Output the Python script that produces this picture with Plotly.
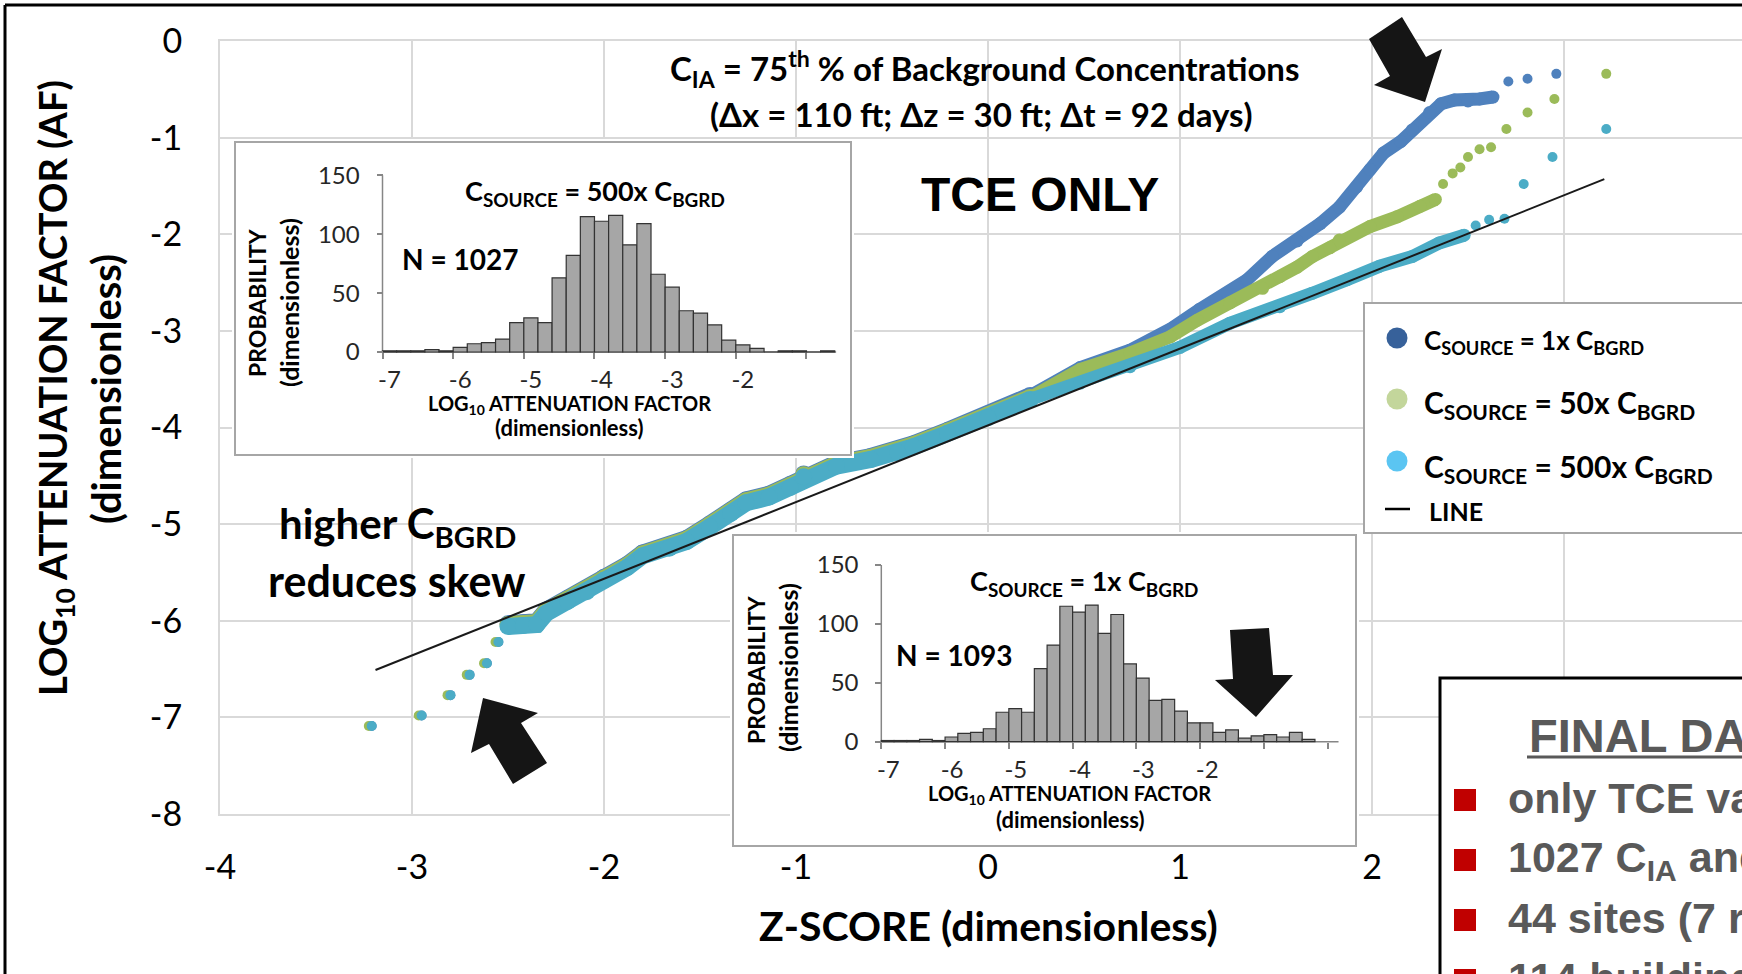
import plotly.graph_objects as go

# ---------------- figure geometry (pixels) ----------------
W, H = 1742, 974
# main plotting rectangle in pixels
ML, MR, MT, MB = 220, 1742, 41, 814


def px(x):
    return x / W


def py(y):
    return (H - y) / H


# ---------------- main chart data ----------------
Z_TICKS = [-4, -3, -2, -1, 0, 1, 2, 3]
Z_TICKTEXT = ["-4", "-3", "-2", "-1", "0", "1", "2", ""]
V_TICKS = [0, -1, -2, -3, -4, -5, -6, -7, -8]
V_TICKTEXT = ["0", "-1", "-2", "-3", "-4", "-5", "-6", "-7", "-8"]
Z_RANGE = [-4, 3.927]
V_RANGE = [-8, 0]

# C_SOURCE = 1x C_BGRD  (blue)
BLUE_LO_Z = [-3.21, -2.95, -2.80, -2.70, -2.61, -2.55]
BLUE_LO_V = [-7.09, -6.98, -6.77, -6.56, -6.44, -6.22]
BLUE_BAND_Z = [-2.50, -2.42, -2.35, -2.30, -2.19, -2.09, -2.00, -1.88, -1.80, -1.66, -1.57, -1.45,
               -1.34, -1.26, -1.14, -1.03, -0.96, -0.79, -0.61, -0.47, -0.39, -0.21, 0.00, 0.22,
               0.48, 0.74, 0.96, 1.10, 1.19, 1.35, 1.48, 1.61, 1.73, 1.83, 1.92, 1.99, 2.06,
               2.15, 2.21, 2.30, 2.36, 2.43, 2.50, 2.56, 2.63]
BLUE_BAND_V = [-6.03, -6.02, -6.01, -5.89, -5.77, -5.67, -5.55, -5.42, -5.30, -5.22, -5.15, -5.00,
               -4.86, -4.75, -4.69, -4.59, -4.48, -4.37, -4.30, -4.23, -4.17, -4.03, -3.86, -3.67,
               -3.38, -3.20, -2.97, -2.78, -2.68, -2.47, -2.23, -2.07, -1.89, -1.72, -1.51, -1.33,
               -1.16, -1.04, -0.92, -0.74, -0.65, -0.61, -0.62, -0.60, -0.58]
BLUE_HI_Z = [2.71, 2.81, 2.96]
BLUE_HI_V = [-0.42, -0.39, -0.34]

# C_SOURCE = 50x C_BGRD  (green)
GREEN_LO_Z = [-3.225, -2.965, -2.815, -2.715, -2.625, -2.565]
GREEN_LO_V = [-7.09, -6.98, -6.77, -6.56, -6.44, -6.22]
GREEN_BAND_Z = [-2.50, -2.42, -2.35, -2.30, -2.19, -2.09, -2.00, -1.88, -1.80, -1.66, -1.57, -1.45,
                -1.34, -1.26, -1.14, -1.03, -0.96, -0.79, -0.61, -0.47, -0.39, -0.21, 0.00, 0.22,
                0.48, 0.74, 0.95, 1.09, 1.26, 1.43, 1.52, 1.61, 1.69, 1.78, 1.83, 1.99, 2.13,
                2.25, 2.33]
GREEN_BAND_V = [-6.04, -6.03, -6.02, -5.90, -5.78, -5.68, -5.56, -5.43, -5.31, -5.23, -5.16, -5.01,
                -4.87, -4.76, -4.70, -4.60, -4.49, -4.38, -4.31, -4.24, -4.18, -4.04, -3.87, -3.69,
                -3.40, -3.23, -3.06, -2.89, -2.71, -2.56, -2.44, -2.34, -2.23, -2.14, -2.06, -1.92,
                -1.82, -1.71, -1.64]
GREEN_HI_Z = [2.37, 2.42, 2.46, 2.50, 2.56, 2.62, 2.70, 2.81, 2.95, 3.22]
GREEN_HI_V = [-1.48, -1.37, -1.31, -1.20, -1.12, -1.10, -0.91, -0.74, -0.60, -0.34]

# C_SOURCE = 500x C_BGRD  (cyan)
CYAN_LO_Z = [-3.21, -2.95, -2.80, -2.70, -2.61, -2.55]
CYAN_LO_V = [-7.09, -6.98, -6.77, -6.56, -6.44, -6.22]
CYAN_BAND_Z = [-2.50, -2.42, -2.35, -2.30, -2.19, -2.09, -2.00, -1.88, -1.80, -1.66, -1.57, -1.45,
               -1.34, -1.26, -1.14, -1.03, -0.96, -0.79, -0.61, -0.47, -0.39, -0.21, 0.00, 0.22,
               0.48, 0.74, 1.00, 1.26, 1.52, 1.69, 1.87, 2.04, 2.21, 2.35, 2.48]
CYAN_BAND_V = [-6.06, -6.05, -6.04, -5.92, -5.80, -5.70, -5.58, -5.45, -5.33, -5.25, -5.18, -5.03,
               -4.89, -4.78, -4.72, -4.62, -4.51, -4.40, -4.33, -4.26, -4.20, -4.06, -3.90, -3.71,
               -3.54, -3.37, -3.17, -2.92, -2.75, -2.61, -2.47, -2.33, -2.23, -2.09, -2.01]
CYAN_HI_Z = [2.54, 2.61, 2.69, 2.79, 2.94, 3.22]
CYAN_HI_V = [-1.91, -1.85, -1.84, -1.48, -1.20, -0.91]

# reference line
LINE_Z = [-3.19, 3.21]
LINE_V = [-6.51, -1.43]

# ---------------- inset histograms ----------------
HIST_TOP_X = [-6.9, -6.7, -6.5, -6.3, -6.1, -5.9, -5.7, -5.5, -5.3, -5.1, -4.9, -4.7, -4.5, -4.3,
              -4.1, -3.9, -3.7, -3.5, -3.3, -3.1, -2.9, -2.7, -2.5, -2.3, -2.1, -1.9, -1.7, -1.5,
              -1.3, -1.1, -0.9, -0.7]
HIST_TOP_N = [1, 1, 1, 2, 1, 4, 7, 8, 11, 25, 29, 25, 63, 82, 115, 111, 116, 91, 109, 66, 55, 35,
              33, 23, 10, 6, 3, 0, 1, 1, 0, 1]
HIST_BOT_X = [-6.9, -6.7, -6.5, -6.3, -6.1, -5.9, -5.7, -5.5, -5.3, -5.1, -4.9, -4.7, -4.5, -4.3,
              -4.1, -3.9, -3.7, -3.5, -3.3, -3.1, -2.9, -2.7, -2.5, -2.3, -2.1, -1.9, -1.7, -1.5,
              -1.3, -1.1, -0.9, -0.7, -0.5, -0.3]
HIST_BOT_N = [1, 1, 1, 2, 1, 4, 7, 8, 11, 25, 28, 25, 62, 82, 115, 110, 116, 92, 108, 66, 54, 35,
              36, 26, 16, 16, 8, 10, 3, 5, 6, 4, 8, 2]
HIST_XTICKS = [-7, -6, -5, -4, -3, -2, -1, 0]
HIST_XTICKTEXT = ["-7", "-6", "-5", "-4", "-3", "-2", "", ""]
HIST_YTICKS = [0, 50, 100, 150]
HIST_YTICKTEXT = ["0", "50", "100", "150"]

# ---------------- styles ----------------
BLUE, GREEN, CYAN = "#4F81BD", "#9BBB59", "#4BACC6"
GRID = "#D9D9D9"
CAL = "Lato"
ARIAL = "Liberation Sans"
MS = 10        # isolated dots
BW_DENSE = 17  # band thickness where points pile up most
BW_UPPER = 13  # band thickness in the upper tail
Z_SPLIT = 0.25

fig = go.Figure()


def band_trace(z, v, color, w):
    fig.add_trace(go.Scatter(x=z, y=v, mode="lines+markers",
                             line=dict(color=color, width=w),
                             marker=dict(color=color, size=w),
                             xaxis="x", yaxis="y", hoverinfo="skip"))


def add_series(bz, bv, lz, lv, hz, hv, color):
    k = next((i for i, zz in enumerate(bz) if zz > Z_SPLIT), len(bz))
    band_trace(bz[:k], bv[:k], color, BW_DENSE)
    if k < len(bz):
        band_trace(bz[k - 1:], bv[k - 1:], color, BW_UPPER)
    fig.add_trace(go.Scatter(x=lz + hz, y=lv + hv, mode="markers",
                             marker=dict(color=color, size=MS),
                             xaxis="x", yaxis="y", hoverinfo="skip"))


add_series(BLUE_BAND_Z, BLUE_BAND_V, BLUE_LO_Z, BLUE_LO_V, BLUE_HI_Z, BLUE_HI_V, BLUE)
add_series(GREEN_BAND_Z, GREEN_BAND_V, GREEN_LO_Z, GREEN_LO_V, GREEN_HI_Z, GREEN_HI_V, GREEN)
add_series(CYAN_BAND_Z, CYAN_BAND_V, CYAN_LO_Z, CYAN_LO_V, CYAN_HI_Z, CYAN_HI_V, CYAN)
fig.add_trace(go.Scatter(x=LINE_Z, y=LINE_V, mode="lines", line=dict(color="#1a1a1a", width=2),
                         xaxis="x", yaxis="y", hoverinfo="skip"))

# inset geometry (pixels): box, axis origin, px per unit
TOP = dict(box=(235, 142, 851, 455), x0=382.5, y0=352, xs=70.66, ys=1.178, xend=-0.58,
           dom=(232, 139, 854, 458))
BOT = dict(box=(733, 535, 1356, 846), x0=881.3, y0=741.7, xs=63.77, ys=1.178, xend=0.17,
           dom=(730, 532, 1359, 849))


def inset_axes(g, xa, ya, ax_x, ax_y):
    dl, dt, dr, db = g["dom"]
    xr = [-7 + (dl - g["x0"]) / g["xs"], -7 + (dr - g["x0"]) / g["xs"]]
    yr = [(g["y0"] - db) / g["ys"], (g["y0"] - dt) / g["ys"]]
    tickfont = dict(family=CAL, size=24, color="#262626")
    fig.update_layout(**{
        xa: dict(domain=[px(dl), px(dr)], range=xr, anchor="free", position=py(g["y0"]),
                 showgrid=False, zeroline=False, showline=False, tickvals=HIST_XTICKS,
                 ticktext=HIST_XTICKTEXT, ticks="outside", ticklen=6, tickwidth=1.5,
                 tickcolor="#868686", tickfont=tickfont, ticklabelshift=7,
                 ticklabelstandoff=0, fixedrange=True),
        ya: dict(domain=[py(db), py(dt)], range=yr, anchor="free", position=px(g["x0"]),
                 showgrid=False, zeroline=False, showline=False, tickvals=HIST_YTICKS,
                 ticktext=HIST_YTICKTEXT, ticks="outside", ticklen=6, tickwidth=1.5,
                 tickcolor="#868686", tickfont=tickfont, ticklabelstandoff=12, fixedrange=True),
    })

    def dx(p):
        return -7 + (p - g["x0"]) / g["xs"]

    def dy(p):
        return (g["y0"] - p) / g["ys"]

    l, t, r, b = g["box"]
    fig.add_shape(type="rect", xref=ax_x, yref=ax_y, layer="below",
                  x0=dx(l), x1=dx(r), y0=dy(b), y1=dy(t),
                  fillcolor="white", line=dict(color="#A6A6A6", width=2))
    fig.add_shape(type="line", xref=ax_x, yref=ax_y, layer="below",
                  x0=-7, x1=g["xend"], y0=0, y1=0, line=dict(color="#868686", width=1.5))
    fig.add_shape(type="line", xref=ax_x, yref=ax_y, layer="below",
                  x0=-7, x1=-7, y0=0, y1=150, line=dict(color="#868686", width=1.5))


fig.add_trace(go.Bar(x=HIST_TOP_X, y=HIST_TOP_N, width=0.2, xaxis="x2", yaxis="y2",
                     marker=dict(color="#A6A6A6", line=dict(color="#333333", width=1.2)),
                     hoverinfo="skip"))
fig.add_trace(go.Bar(x=HIST_BOT_X, y=HIST_BOT_N, width=0.2, xaxis="x3", yaxis="y3",
                     marker=dict(color="#A6A6A6", line=dict(color="#333333", width=1.2)),
                     hoverinfo="skip"))
inset_axes(TOP, "xaxis2", "yaxis2", "x2", "y2")
inset_axes(BOT, "xaxis3", "yaxis3", "x3", "y3")

# ---------------- main axes ----------------
mainfont = dict(family=CAL, size=34, color="#000000")
fig.update_layout(
    width=W, height=H, margin=dict(l=0, r=0, t=0, b=0, pad=0),
    paper_bgcolor="white", plot_bgcolor="white", showlegend=False, barmode="overlay",
    xaxis=dict(domain=[px(ML), px(MR)], range=Z_RANGE, tickvals=Z_TICKS, ticktext=Z_TICKTEXT,
               showgrid=True, gridcolor=GRID, gridwidth=2, zeroline=False,
               showline=True, linecolor=GRID, linewidth=2, mirror=True, ticks="",
               tickfont=mainfont, ticklabelstandoff=22, anchor="y", fixedrange=True,
               automargin=False),
    yaxis=dict(domain=[py(MB), py(MT)], range=V_RANGE, tickvals=V_TICKS, ticktext=V_TICKTEXT,
               showgrid=True, gridcolor=GRID, gridwidth=2, zeroline=False,
               showline=True, linecolor=GRID, linewidth=2, ticks="",
               tickfont=mainfont, ticklabelstandoff=29, anchor="x", fixedrange=True,
               automargin=False),
)

# ---------------- decorations ----------------
ann = []


def text(t, x, y, size, family=CAL, bold=True, color="#000000", xanchor="center",
         yanchor="middle", angle=0):
    ann.append(dict(text=(f"<b>{t}</b>" if bold else t), x=px(x), y=py(y), xref="paper",
                    yref="paper", showarrow=False, xanchor=xanchor, yanchor=yanchor,
                    textangle=angle, font=dict(family=family, size=size, color=color)))


# main texts
text("C<sub>IA</sub> = 75<sup>th</sup> % of Background Concentrations", 985, 68, 33)
text("(Δx = 110 ft; Δz = 30 ft; Δt = 92 days)", 981, 114, 33)
text("TCE ONLY", 1040, 194, 48, family=ARIAL)
text("higher C<sub>BGRD</sub>", 397, 526, 42)
text("reduces skew", 397, 580, 43)
text("LOG<sub>10</sub> ATTENUATION FACTOR (AF)", 55, 388, 38, angle=-90)
text("(dimensionless)", 106, 389, 40, angle=-90)
text("Z-SCORE (dimensionless)", 988, 925, 41)

# top inset texts
text("C<sub>SOURCE</sub> = 500x C<sub>BGRD</sub>", 595, 192, 27)
text("N = 1027", 460, 259, 28)
text("PROBABILITY", 257, 303, 23, angle=-90)
text("(dimensionless)", 289, 303, 25, angle=-90)
text("LOG<sub>10</sub> ATTENUATION FACTOR", 569, 404, 20)
text("(dimensionless)", 569, 428, 22)

# bottom inset texts
text("C<sub>SOURCE</sub> = 1x C<sub>BGRD</sub>", 1084, 582, 27)
text("N = 1093", 954, 655, 28)
text("PROBABILITY", 756, 670, 23, angle=-90)
text("(dimensionless)", 788, 668, 25, angle=-90)
text("LOG<sub>10</sub> ATTENUATION FACTOR", 1069, 794, 20)
text("(dimensionless)", 1070, 819, 22)

shapes = []


def prect(x0, y0, x1, y1, fill, line_color=None, lw=0, layer="above"):
    shapes.append(dict(type="rect", xref="paper", yref="paper", layer=layer,
                       x0=px(x0), x1=px(x1), y0=py(y1), y1=py(y0), fillcolor=fill,
                       line=dict(color=line_color or fill, width=lw)))


def pline(x0, y0, x1, y1, color, lw):
    shapes.append(dict(type="line", xref="paper", yref="paper", layer="above",
                       x0=px(x0), x1=px(x1), y0=py(y0), y1=py(y1),
                       line=dict(color=color, width=lw)))


def pcircle(cx, cy, d, color):
    shapes.append(dict(type="circle", xref="paper", yref="paper", layer="above",
                       x0=px(cx - d / 2), x1=px(cx + d / 2), y0=py(cy + d / 2),
                       y1=py(cy - d / 2), fillcolor=color, line=dict(width=0)))


def ppoly(pts, color):
    p = "M " + " L ".join(f"{px(a):.5f},{py(b):.5f}" for a, b in pts) + " Z"
    shapes.append(dict(type="path", xref="paper", yref="paper", layer="above", path=p,
                       fillcolor=color, line=dict(color=color, width=0)))


# legend box
prect(1364, 303, 1770, 533, "white", "#A6A6A6", 2)
pcircle(1397, 338, 21, "#37619A")
pcircle(1397, 399, 21, "#C3D69B")
pcircle(1397, 461, 21, "#5BC5F2")
pline(1385, 509, 1410, 509, "#000000", 2.5)
text("C<sub>SOURCE</sub> = 1x C<sub>BGRD</sub>", 1422, 341, 26, xanchor="left")
text("C<sub>SOURCE</sub> = 50x C<sub>BGRD</sub>", 1422, 404, 30, xanchor="left")
text("C<sub>SOURCE</sub> = 500x C<sub>BGRD</sub>", 1422, 468, 30, xanchor="left")
text("LINE", 1427, 511, 25, xanchor="left")

# final data box
prect(1440, 678, 1790, 1000, "white", "#000000", 3)
GRAY = "#595959"
text("FINAL DATA SET", 1527, 735, 47, family=ARIAL, color=GRAY, xanchor="left")
pline(1527, 757, 1770, 757, GRAY, 3)
for cy in (800, 860, 920, 980):
    prect(1454, cy - 11, 1476, cy + 11, "#C00000")
text("only TCE values", 1506, 798, 43, family=ARIAL, color=GRAY, xanchor="left")
text("1027 C<sub>IA</sub> and C<sub>SS</sub>", 1506, 860, 43, family=ARIAL, color=GRAY,
     xanchor="left")
text("44 sites (7 regions)", 1506, 918, 43, family=ARIAL, color=GRAY, xanchor="left")
text("114 buildings", 1506, 978, 43, family=ARIAL, color=GRAY, xanchor="left")

# arrows
ppoly([(1369, 39), (1390, 76), (1374, 85), (1425, 102), (1442, 49), (1426, 57), (1402, 17)],
      "#151515")
ppoly([(483, 698), (538, 713), (521, 723), (547, 763), (513, 784), (489, 744), (471, 753)],
      "#151515")
ppoly([(1230, 630), (1269, 628), (1273, 675), (1293, 675), (1256, 717), (1215, 680),
       (1233, 679)], "#151515")

# slide border
pline(5, 5, 1760, 5, "#000000", 3)
pline(5, 5, 5, 990, "#000000", 3)

fig.update_layout(annotations=ann)
fig.update_layout(shapes=list(fig.layout.shapes) + shapes)

fig.write_html("out.html", config={"displayModeBar": False, "responsive": False})
